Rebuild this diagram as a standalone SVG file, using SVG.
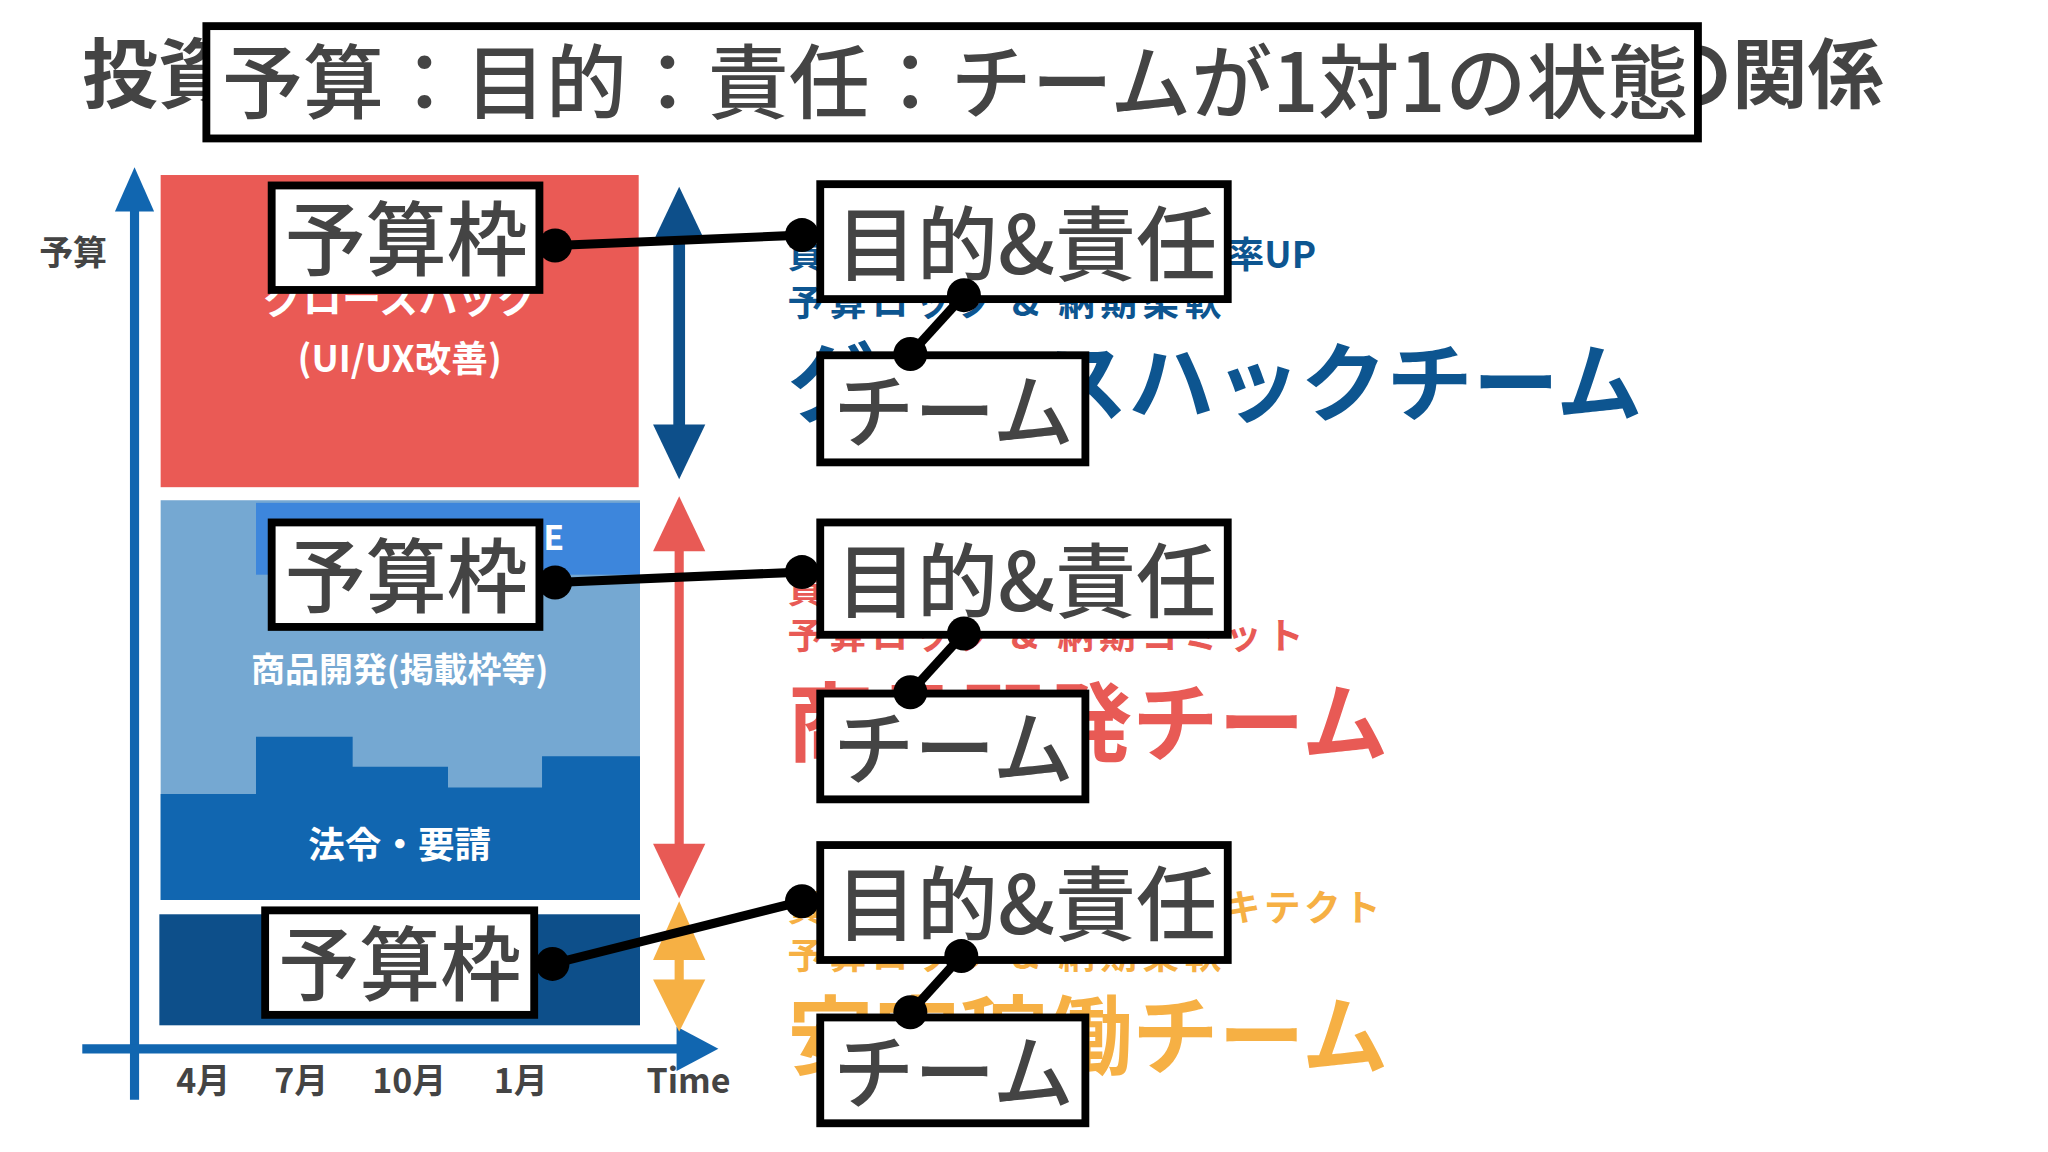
<svg xmlns="http://www.w3.org/2000/svg" width="2048" height="1152" viewBox="0 0 2048 1152">
<style>
text{font-family:"Noto Sans CJK JP","Noto Sans",sans-serif}
.box{fill:#fff;stroke:#000;stroke-width:6}
.bt{fill:#444;font-weight:500;font-size:62px}
.w{fill:#fff;font-weight:700;text-anchor:middle}
.ax{fill:#444;font-weight:700;font-size:26px}
.con{stroke:#000;stroke-width:7;fill:none}
</style>
<rect width="2048" height="1152" fill="#fff"/>
<g transform="scale(1.30612)">
<g id="title">
<text x="63" y="78" font-size="58" font-weight="700" fill="#444">投資</text>
<text x="1268" y="78" font-size="58" font-weight="700" fill="#444">の関係</text>
<rect class="box" x="158" y="20" width="1142" height="86"/>
<text x="170" y="86" font-size="62" font-weight="500" fill="#444">予算：目的：責任：チームが1対1の状態</text>
</g>
<g id="chart">
<rect x="123" y="134" width="366" height="239" fill="#ea5a55"/>
<text class="w" x="306" y="240" font-size="30">グロースハック</text>
<text class="w" x="306" y="285" font-size="28">(UI/UX改善)</text>
<rect x="123" y="383" width="367" height="306" fill="#75a8d2"/>
<rect x="196" y="385" width="294" height="55" fill="#3d86dc"/>
<text x="416" y="421" font-size="26" font-weight="700" fill="#fff">E</text>
<polygon points="123,608 196,608 196,564 270,564 270,587 343,587 343,603 415,603 415,579 490,579 490,689 123,689" fill="#1166b0"/>
<text class="w" x="306" y="522" font-size="26">商品開発(掲載枠等)</text>
<text class="w" x="306" y="657" font-size="28">法令・要請</text>
<rect x="122" y="700" width="368" height="85" fill="#0d4f8a"/>
<line x1="103" y1="155" x2="103" y2="842" stroke="#1166b0" stroke-width="7"/>
<polygon points="103,128 88,162 118,162" fill="#1166b0"/>
<line x1="63" y1="803" x2="525" y2="803" stroke="#1166b0" stroke-width="7"/>
<polygon points="550,803 518,786 518,820" fill="#1166b0"/>
<text x="30" y="203" font-size="26" font-weight="700" fill="#444">予算</text>
<text class="ax" x="135" y="837">4月</text>
<text class="ax" x="210" y="837">7月</text>
<text class="ax" x="285" y="837">10月</text>
<text class="ax" x="378" y="837">1月</text>
<text class="ax" x="495" y="837">Time</text>
<line x1="520" y1="175" x2="520" y2="335" stroke="#0d4f8a" stroke-width="9"/>
<polygon points="520,143 500,185 540,185" fill="#0d4f8a"/>
<polygon points="520,367 500,325 540,325" fill="#0d4f8a"/>
<line x1="520" y1="410" x2="520" y2="655" stroke="#e85a55" stroke-width="7"/>
<polygon points="520,380 500,422 540,422" fill="#e85a55"/>
<polygon points="520,688 500,646 540,646" fill="#e85a55"/>
<line x1="520" y1="715" x2="520" y2="770" stroke="#f6b044" stroke-width="7"/>
<polygon points="520,690 500,735 540,735" fill="#f6b044"/>
<polygon points="520,790 500,750 540,750" fill="#f6b044"/>
</g>
<g id="teamtexts">
<text x="603" y="205" font-size="28" font-weight="700" fill="#0d5590">貢献：CV率UP</text>
<text x="940" y="205" font-size="28" font-weight="700" fill="#0d5590">率UP</text>
<text x="603" y="242" font-size="28" font-weight="700" fill="#0d5590" textLength="332" lengthAdjust="spacing">予算ロック &amp; 納期柔軟</text>
<text x="603" y="318" font-size="66" font-weight="700" fill="#0d5590">グロースハックチーム</text>
<text x="603" y="462" font-size="28" font-weight="700" fill="#e85a55">貢献</text>
<text x="603" y="497" font-size="28" font-weight="700" fill="#e85a55" textLength="395" lengthAdjust="spacing">予算ロック &amp; 納期コミット</text>
<text x="603" y="578" font-size="66" font-weight="700" fill="#e85a55">商品開発チーム</text>
<text x="603" y="705" font-size="28" font-weight="700" fill="#f6b044" textLength="454" lengthAdjust="spacing">貢献：安定システムアーキテクト</text>
<text x="603" y="742" font-size="28" font-weight="700" fill="#f6b044" textLength="332" lengthAdjust="spacing">予算ロック &amp; 納期柔軟</text>
<text x="603" y="818" font-size="66" font-weight="700" fill="#f6b044">安定稼働チーム</text>
</g>
<g id="budget1"><rect class="box" x="208" y="142" width="205" height="80"/><text class="bt" x="218" y="206">予算枠</text></g>
<g id="budget2"><rect class="box" x="208" y="400" width="205" height="80"/><text class="bt" x="218" y="464">予算枠</text></g>
<g id="budget3"><rect class="box" x="203" y="697" width="206" height="80"/><text class="bt" x="213" y="761">予算枠</text></g>
<g id="goal1"><rect class="box" x="628" y="141" width="312" height="88"/><text class="bt" x="640" y="210" font-size="60">目的&amp;責任</text></g>
<g id="goal2"><rect class="box" x="628" y="400" width="312" height="86"/><text class="bt" x="640" y="468" font-size="60">目的&amp;責任</text></g>
<g id="goal3"><rect class="box" x="628" y="647" width="312" height="88"/><text class="bt" x="640" y="715" font-size="60">目的&amp;責任</text></g>
<g id="team1"><rect class="box" x="628" y="272" width="203" height="82"/><text class="bt" x="638" y="338">チーム</text></g>
<g id="team2"><rect class="box" x="628" y="531" width="203" height="81"/><text class="bt" x="638" y="596">チーム</text></g>
<g id="team3"><rect class="box" x="628" y="779" width="203" height="81"/><text class="bt" x="638" y="844">チーム</text></g>
<g id="connectors">
<line class="con" x1="425" y1="188" x2="614" y2="180"/>
<line class="con" x1="738" y1="226" x2="697" y2="271"/>
<line class="con" x1="425" y1="446" x2="614" y2="438"/>
<line class="con" x1="738" y1="485" x2="697" y2="530"/>
<line class="con" x1="423" y1="738" x2="614" y2="690"/>
<line class="con" x1="736" y1="732" x2="697" y2="775"/>
<g fill="#000">
<circle cx="425" cy="188" r="13"/><circle cx="614" cy="180" r="13"/>
<circle cx="738" cy="226" r="13"/><circle cx="697" cy="271" r="13"/>
<circle cx="425" cy="446" r="13"/><circle cx="614" cy="438" r="13"/>
<circle cx="738" cy="485" r="13"/><circle cx="697" cy="530" r="13"/>
<circle cx="423" cy="738" r="13"/><circle cx="614" cy="690" r="13"/>
<circle cx="736" cy="732" r="13"/><circle cx="697" cy="775" r="13"/>
</g>
</g>
</g>
</svg>
